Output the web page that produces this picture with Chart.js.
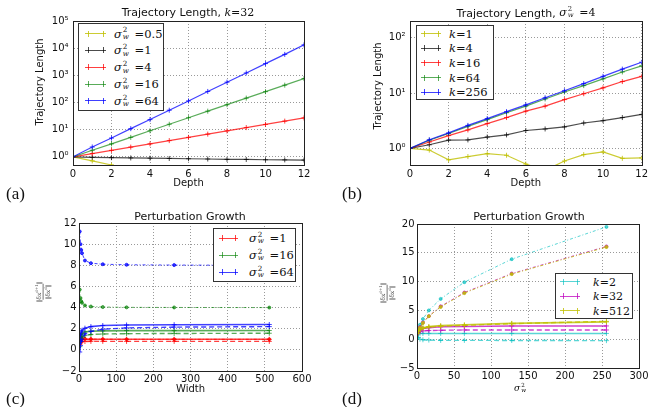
<!DOCTYPE html>
<html>
<head>
<meta charset="utf-8">
<script src="https://cdn.jsdelivr.net/npm/chart.js@4.4.1/dist/chart.umd.min.js"></script>
<style>
  body { margin:0; width:651px; height:407px; background:#fff; position:relative; overflow:hidden; font-family:"DejaVu Sans", sans-serif; color:#111; }
  canvas { position:absolute; }
  .t { position:absolute; transform:translate(-50%,-50%); white-space:nowrap; }
  .title { font-size:11px; }
  .m { font-family:"DejaVu Serif", serif; }
  .ylab { font-size:10px; transform:translate(-50%,-50%) rotate(-90deg); }
  .frac { font-family:"DejaVu Serif", serif; font-size:6px; color:#555; display:flex; flex-direction:column; align-items:center; line-height:1.15; transform:translate(-50%,-50%) rotate(-90deg); }
  .frac .den { border-top:0.6px solid #777; }
  .frac sup { font-size:4px; }
  .tag { position:absolute; font-family:"Liberation Serif", serif; font-size:17px; line-height:1; transform:translateY(-50%); }
  .leg { position:absolute; border:1px solid #333; background:#fff; box-sizing:border-box; font-family:"DejaVu Serif", serif; font-size:11px; }
  .sample { position:absolute; height:0; border-top:1px solid; }
  .tick { position:absolute; width:0; height:6px; border-left:1px solid; }
  .lab { position:absolute; transform:translateY(-50%); white-space:nowrap; }
  .ss { display:inline-flex; flex-direction:column; align-items:flex-start; font-size:0.62em; line-height:0.95; vertical-align:0.75em; margin:0 2px 0 1px; }
</style>
</head>
<body>
<canvas id="ca" width="325" height="195" style="left:0;top:0"></canvas>
<canvas id="cb" width="321" height="195" style="left:330px;top:0"></canvas>
<canvas id="cc" width="330" height="207" style="left:0;top:200px"></canvas>
<canvas id="cd" width="321" height="207" style="left:330px;top:200px"></canvas>

<div class="t title" style="left:188px;top:12px">Trajectory Length, <span class="m"><i>k</i>=32</span></div>
<div class="t title" style="left:526px;top:13px">Trajectory Length, <span class="m"><i>σ</i><span class="ss"><span>2</span><i>w</i></span> =4</span></div>
<div class="t title" style="left:190px;top:216px">Perturbation Growth</div>
<div class="t title" style="left:529px;top:216px">Perturbation Growth</div>
<div class="t ylab" style="left:39px;top:82px">Trajectory Length</div>
<div class="t ylab" style="left:377px;top:86px">Trajectory Length</div>
<div class="t frac" style="left:43px;top:292px"><span>‖δx<sup>d+1</sup>‖</span><span class="den">‖δx<sup>d</sup>‖</span></div>
<div class="t frac" style="left:387px;top:293px"><span>‖δx<sup>d+1</sup>‖</span><span class="den">‖δx<sup>d</sup>‖</span></div>
<div class="t m" style="left:521px;top:388px;font-size:9px"><i>σ</i><span class="ss"><span>2</span><i>w</i></span></div>
<div class="tag" style="left:6px;top:193px">(a)</div>
<div class="tag" style="left:342px;top:193px">(b)</div>
<div class="tag" style="left:6px;top:398px">(c)</div>
<div class="tag" style="left:342px;top:398px">(d)</div>

<script>
// (a) trajectory length vs depth, k = 32
var depth = [0, 1, 2, 3, 4, 5, 6, 7, 8, 9, 10, 11, 12];
var sigmaA = ['0.5', '1', '4', '16', '64'];
var trajA05 = [1, 0.71, 0.5, 0.36, 0.26, 0.18, 0.13, 0.09, 0.065, 0.046, 0.033, 0.024, 0.017];
var trajA1 = [1, 0.96, 0.93, 0.91, 0.89, 0.87, 0.85, 0.83, 0.81, 0.8, 0.78, 0.77, 0.76];
var trajA4 = [1, 1.32, 1.73, 2.28, 3.0, 3.95, 5.2, 6.85, 9.0, 11.9, 15.6, 20.6, 27];
var trajA16 = [1, 1.74, 3.0, 5.2, 9.1, 15.8, 27.5, 48, 83, 145, 250, 435, 760];
var trajA64 = [1, 2.3, 4.9, 10.9, 23.5, 52, 114, 255, 560, 1220, 2700, 5900, 13200];
var decadesA = [1, 10, 100, 1000, 10000, 100000];

// (b) trajectory length vs depth, sigma_w^2 = 4
var kB = ['1', '4', '16', '64', '256'];
var trajB1 = [1, 0.93, 0.62, 0.71, 0.8, 0.75, 0.52, 0.4, 0.59, 0.77, 0.86, 0.66, 0.67];
var trajB4 = [1, 1.16, 1.41, 1.42, 1.6, 1.75, 2.1, 2.24, 2.44, 2.87, 3.16, 3.6, 4.1];
var trajB16 = [1, 1.3, 1.7, 2.15, 2.8, 3.6, 4.7, 5.8, 7.6, 9.7, 12.4, 16.1, 20];
var trajB64 = [1, 1.4, 1.85, 2.5, 3.3, 4.4, 5.8, 7.8, 10.4, 13.6, 18, 24, 31];
var trajB256 = [1, 1.43, 1.9, 2.6, 3.45, 4.6, 6.1, 8.2, 11, 14.8, 20, 27, 36];
var decadesB = [1, 10, 100];

// (c) perturbation growth vs width
var widths = [2, 4, 6, 8, 16, 32, 64, 128, 256, 512];
var sigmaC = ['1', '16', '64'];
var growC1 = [0.75, 0.9, 0.95, 0.97, 0.98, 0.99, 1.0, 1.0, 1.0, 1.0];
var growC1d = [0.5, 0.68, 0.74, 0.77, 0.79, 0.8, 0.8, 0.8, 0.8, 0.8];
var growC1u = [1.4, 1.2, 1.12, 1.08, 1.04, 1.02, 1.01, 1.0, 1.0, 1.0];
var growC16 = [0.9, 1.25, 1.45, 1.55, 1.7, 1.76, 1.8, 1.82, 1.82, 1.83];
var growC16d = [0.3, 0.8, 1.05, 1.2, 1.35, 1.45, 1.5, 1.53, 1.55, 1.57];
var growC16u = [5.7, 4.9, 4.6, 4.45, 4.2, 4.1, 4.05, 4.02, 4.01, 4.0];
var growC64 = [0.9, 1.4, 1.7, 1.85, 2.05, 2.2, 2.3, 2.35, 2.38, 2.4];
var growC64d = [-0.2, 0.4, 0.8, 1.0, 1.5, 1.75, 1.95, 2.08, 2.15, 2.2];
var growC64u = [11.2, 10.0, 9.45, 9.15, 8.45, 8.2, 8.1, 8.05, 8.02, 8.0];

// (d) perturbation growth vs sigma_w^2
var sigmaD = [1, 2, 4, 8, 16, 32, 64, 128, 256];
var kD = ['2', '32', '512'];
var growD2 = [1.0, 1.0, 1.0, 1.0, 1.0, 1.0, 1.0, 1.0, 1.0];
var growD2d = [0.9, 0.3, 0.0, -0.1, -0.15, -0.2, -0.2, -0.22, -0.25];
var growD2u = [1.3, 1.8, 2.5, 3.5, 5.0, 7.0, 9.9, 13.9, 19.5];
var growD32 = [1.0, 1.3, 1.6, 1.85, 2.0, 2.15, 2.2, 2.3, 2.3];
var growD32d = [1.0, 1.2, 1.35, 1.45, 1.5, 1.55, 1.6, 1.6, 1.6];
var growD32u = [1.1, 1.5, 2.1, 2.9, 4.0, 5.7, 8.1, 11.4, 16.1];
var growD512 = [1.0, 1.4, 1.75, 2.0, 2.2, 2.35, 2.5, 2.75, 3.0];
var growD512d = [1.0, 1.35, 1.65, 1.9, 2.1, 2.25, 2.4, 2.7, 3.1];
var growD512u = [1.0, 1.4, 2.0, 2.8, 4.0, 5.6, 8.0, 11.3, 16.0];

var YEL = 'rgba(191,191,0,0.8)', BLK = 'rgba(0,0,0,0.7)', RED = 'rgba(255,0,0,0.75)',
    GRN = 'rgba(0,128,0,0.65)', BLU = 'rgba(0,0,255,0.75)', CYN = 'rgba(0,191,191,0.65)',
    MAG = 'rgba(191,0,191,0.75)';
var GRID = '#999';
var TICK = {family: 'DejaVu Sans', size: 10};
var SUP = ['⁰', '¹', '²', '³', '⁴', '⁵'];

var SOLID = {w: 1.2, pt: 'cross', r: 2.5};
var THICK = {w: 1.6, pt: 'cross', r: 2.5};
var DASH = {w: 1.4, dash: [5, 3], pt: 'cross', r: 2.5};
var DOTDASH = {w: 1, dash: [3, 2, 1, 2], pt: 'circle', r: 1.5};

function series(xs, ys, color, st) {
  return {
    data: xs.map(function (x, i) { return {x: x, y: ys[i]}; }),
    borderColor: color, backgroundColor: color, borderWidth: st.w,
    borderDash: st.dash || [], pointStyle: st.pt, pointRadius: st.r,
    pointBorderWidth: 1, tension: 0, fill: false
  };
}

function fmt(v) { return String(v).replace('-', '−'); }
function pow10(v) { return '10' + SUP[Math.round(Math.log10(v))]; }

// full box around the plot area, like matplotlib
var frame = {
  id: 'frame',
  afterDatasetsDraw: function (chart) {
    var a = chart.chartArea, c = chart.ctx;
    c.save();
    c.strokeStyle = '#222';
    c.lineWidth = 1;
    c.strokeRect(Math.round(a.left) + 0.5, Math.round(a.top) + 0.5,
      Math.round(a.right - a.left), Math.round(a.bottom - a.top));
    c.restore();
  }
};

function build(id, datasets, g) {
  var x = {
    type: 'linear', min: g.xmin, max: g.xmax,
    ticks: {stepSize: g.xstep, padding: g.xpad, color: '#111', font: TICK, maxRotation: 0, autoSkip: false, callback: fmt},
    grid: {color: GRID, drawTicks: false},
    border: {color: '#222', dash: [1, 2]},
    afterFit: function (s) { s.height = g.xh; }
  };
  if (g.xtitle) x.title = {display: true, text: g.xtitle, color: '#111', font: TICK, padding: {top: 0, bottom: g.xtp}};
  var y = {
    type: g.ylog ? 'logarithmic' : 'linear', min: g.ymin, max: g.ymax,
    ticks: {padding: g.ypad, color: '#111', font: TICK, autoSkip: false, callback: g.ylog ? pow10 : fmt},
    grid: {color: GRID, drawTicks: false},
    border: {color: '#222', dash: [1, 2]},
    afterFit: function (s) { s.width = g.yw; }
  };
  if (g.ylog) y.afterBuildTicks = function (s) { s.ticks = g.decades.map(function (v) { return {value: v}; }); };
  else y.ticks.stepSize = g.ystep;
  return new Chart(document.getElementById(id), {
    type: 'line',
    data: {datasets: datasets},
    options: {
      responsive: false, animation: false,
      layout: {padding: {top: g.top, right: g.right, left: 0, bottom: 0}},
      plugins: {legend: {display: false}, tooltip: {enabled: false}},
      scales: {x: x, y: y}
    },
    plugins: [frame]
  });
}

build('ca', [
  series(depth, trajA64, BLU, SOLID),
  series(depth, trajA16, GRN, SOLID),
  series(depth, trajA4, RED, SOLID),
  series(depth, trajA1, BLK, SOLID),
  series(depth, trajA05, YEL, SOLID)
], {xmin: 0, xmax: 12, xstep: 2, ylog: true, ymin: 0.5, ymax: 100000, decades: decadesA,
    top: 21, right: 21, yw: 73, xh: 30, xpad: 3, ypad: 4.5, xtitle: 'Depth', xtp: 6});

build('cb', [
  series(depth, trajB256, BLU, SOLID),
  series(depth, trajB64, GRN, SOLID),
  series(depth, trajB16, RED, SOLID),
  series(depth, trajB4, BLK, SOLID),
  series(depth, trajB1, YEL, SOLID)
], {xmin: 0, xmax: 12, xstep: 2, ylog: true, ymin: 0.5, ymax: 200, decades: decadesB,
    top: 21, right: 9, yw: 80, xh: 30, xpad: 3, ypad: 4.5, xtitle: 'Depth', xtp: 6});

build('cc', [
  series(widths, growC64, BLU, THICK),
  series(widths, growC64d, BLU, DASH),
  series(widths, growC16, GRN, THICK),
  series(widths, growC16d, GRN, DASH),
  series(widths, growC1, RED, THICK),
  series(widths, growC1d, RED, DASH),
  series(widths, growC64u, BLU, DOTDASH),
  series(widths, growC16u, GRN, DOTDASH),
  series(widths, growC1u, RED, DOTDASH)
], {xmin: 0, xmax: 600, xstep: 100, ymin: -2, ymax: 12, ystep: 2,
    top: 23, right: 28, yw: 79, xh: 36, xpad: 2, ypad: 2.5, xtitle: 'Width', xtp: 12});

build('cd', [
  series(sigmaD, growD512, YEL, THICK),
  series(sigmaD, growD512d, YEL, DASH),
  series(sigmaD, growD32, MAG, THICK),
  series(sigmaD, growD32d, MAG, DASH),
  series(sigmaD, growD2, CYN, THICK),
  series(sigmaD, growD2d, CYN, DASH),
  series(sigmaD, growD512u, YEL, DOTDASH),
  series(sigmaD, growD32u, MAG, DOTDASH),
  series(sigmaD, growD2u, CYN, DOTDASH)
], {xmin: 0, xmax: 300, xstep: 50, ymin: -5, ymax: 20, ystep: 5,
    top: 24, right: 12, yw: 87, xh: 39, xpad: 2, ypad: 2.5});

// legends (HTML so the math labels can carry sub/superscripts)
function sigLab(v) { return '<i>σ</i><span class="ss"><span>2</span><i>w</i></span> =' + v; }
function kLab(v) { return '<i>k</i>=' + v; }

function legend(b, labels, colors) {
  var d = document.createElement('div');
  d.className = 'leg';
  d.style.cssText = 'left:' + b.left + 'px;top:' + b.top + 'px;width:' + b.w + 'px;height:' + b.h + 'px;font-size:' + b.fs + 'px';
  var html = '';
  labels.forEach(function (lab, i) {
    var y = b.first + i * b.step, c = colors[i];
    html += '<div class="sample" style="left:' + b.lx + 'px;width:' + b.lw + 'px;top:' + (y - 0.5) + 'px;border-color:' + c + ';border-top-width:' + b.lt + 'px"></div>' +
      '<div class="tick" style="left:' + (b.lx + 3) + 'px;top:' + (y - 3) + 'px;border-color:' + c + '"></div>' +
      '<div class="tick" style="left:' + (b.lx + b.lw - 3) + 'px;top:' + (y - 3) + 'px;border-color:' + c + '"></div>' +
      '<div class="lab" style="left:' + b.tx + 'px;top:' + y + 'px">' + lab + '</div>';
  });
  d.innerHTML = html;
  document.body.appendChild(d);
}

legend({left: 78, top: 23, w: 86, h: 88, first: 9.5, step: 16.85, lx: 6, lw: 21, lt: 1, tx: 35, fs: 11.5},
  sigmaA.map(sigLab), [YEL, BLK, RED, GRN, BLU]);
legend({left: 416, top: 25, w: 78, h: 75, first: 7.5, step: 14.7, lx: 4, lw: 20, lt: 1, tx: 32, fs: 11.5},
  kB.map(kLab), [YEL, BLK, RED, GRN, BLU]);
legend({left: 213, top: 228, w: 83, h: 54, first: 9, step: 17, lx: 5, lw: 19, lt: 1.5, tx: 35, fs: 11.5},
  sigmaC.map(sigLab), [RED, GRN, BLU]);
legend({left: 555, top: 273, w: 78, h: 46, first: 7.5, step: 14.5, lx: 4, lw: 20, lt: 1.5, tx: 37, fs: 11},
  kD.map(kLab), [CYN, MAG, YEL]);
</script>
</body>
</html>
